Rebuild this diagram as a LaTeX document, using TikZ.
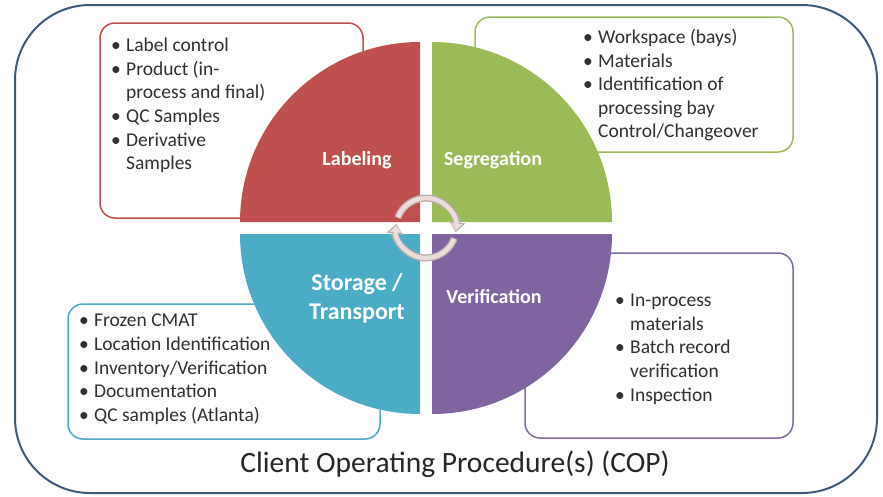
\documentclass[tikz,border=0pt]{standalone}
\usepackage{fontspec}
\setmainfont{Carlito}
\usetikzlibrary{arrows.meta}
\definecolor{qred}{HTML}{C0504D}
\definecolor{qgreen}{HTML}{9BBB59}
\definecolor{qpurple}{HTML}{8064A2}
\definecolor{qteal}{HTML}{4BACC6}
\definecolor{framecol}{HTML}{3F5A78}
\definecolor{arrowfill}{HTML}{EBDCDC}
\definecolor{arrowedge}{HTML}{BBAAAA}
\definecolor{txt}{HTML}{303030}
\definecolor{titlecol}{HTML}{262626}
\newcommand{\bul}{\makebox[15pt][l]{\textbullet}}
\newcommand{\cont}{\makebox[15pt]{}}
\begin{document}
\begin{tikzpicture}[x=1pt,y=-1pt,
  listbox/.style={rounded corners=15pt, line width=1.5pt, fill=white},
  listtext/.style={anchor=north west, inner sep=0pt, align=left, text=txt,
    font=\fontsize{19.5}{23.6}\selectfont},
  quadlabel/.style={text=white, font=\bfseries\fontsize{20}{24}\selectfont, inner sep=0pt},
  cyclearrow/.style={line width=7pt, arrowedge, -{Triangle[length=10pt,width=16pt]}},
  cyclearrowin/.style={line width=4.5pt, arrowfill, -{Triangle[length=7pt,width=12pt]}}]
\useasboundingbox (0,0) rectangle (883,496);
% outer frame
\draw[framecol, line width=2pt, rounded corners=75pt] (15,5) rectangle (877,493);
% list boxes
\draw[listbox, draw=qred] (100,23) rectangle (363,218);
\draw[listbox, draw=qgreen] (475,17) rectangle (793,152);
\draw[listbox, draw=qteal] (68,304) rectangle (380,439);
\draw[listbox, draw=qpurple!75!gray] (525,253) rectangle (793,438);
% quadrants
\fill[qred] (420,222) -- +(-180,0) arc[start angle=180, end angle=270, radius=180] -- cycle;
\fill[qgreen] (432,222) -- +(0,-180) arc[start angle=270, end angle=360, radius=180] -- cycle;
\fill[qpurple] (432,234) -- +(180,0) arc[start angle=0, end angle=90, radius=180] -- cycle;
\fill[qteal] (420,234) -- +(0,180) arc[start angle=90, end angle=180, radius=180] -- cycle;
% cycle arrows
\coordinate (cc) at (426,228);
\draw[cyclearrow] ([shift={(200:30)}]cc) arc[start angle=200, end angle=368, radius=30];
\draw[cyclearrow] ([shift={(20:30)}]cc) arc[start angle=20, end angle=188, radius=30];
\draw[cyclearrowin] ([shift={(201:30)}]cc) arc[start angle=201, end angle=365, radius=30];
\draw[cyclearrowin] ([shift={(21:30)}]cc) arc[start angle=21, end angle=185, radius=30];
% quadrant labels
\node[quadlabel] (lab) at (357,160) {Labeling};
\node[quadlabel] (seg) at (493,160) {Segregation};
\node[quadlabel] (ver) at (494,297) {Verification};
\node[quadlabel, align=center, font=\bfseries\fontsize{24}{29}\selectfont] (sto) at (357,298) {Storage /\\Transport};
% lists
\node[listtext] (l1) at (111,38) {\bul Label control\\
\bul Product (in-\\
\cont process and final)\\
\bul QC Samples\\
\bul Derivative\\
\cont Samples};
\node[listtext] (l2) at (583,29) {\bul Workspace (bays)\\
\bul Materials\\
\bul Identification of\\
\cont processing bay\\
\cont Control/Changeover};
\node[listtext] (l3) at (79,314) {\bul Frozen CMAT\\
\bul Location Identification\\
\bul Inventory/Verification\\
\bul Documentation\\
\bul QC samples (Atlanta)};
\node[listtext] (l4) at (615,294) {\bul In-process\\
\cont materials\\
\bul Batch record\\
\cont verification\\
\bul Inspection};
% title
\node[text=titlecol, font=\fontsize{29.5}{34}\selectfont, inner sep=0pt] (title) at (455,464) {Client Operating Procedure(s) (COP)};
\end{tikzpicture}
\end{document}
